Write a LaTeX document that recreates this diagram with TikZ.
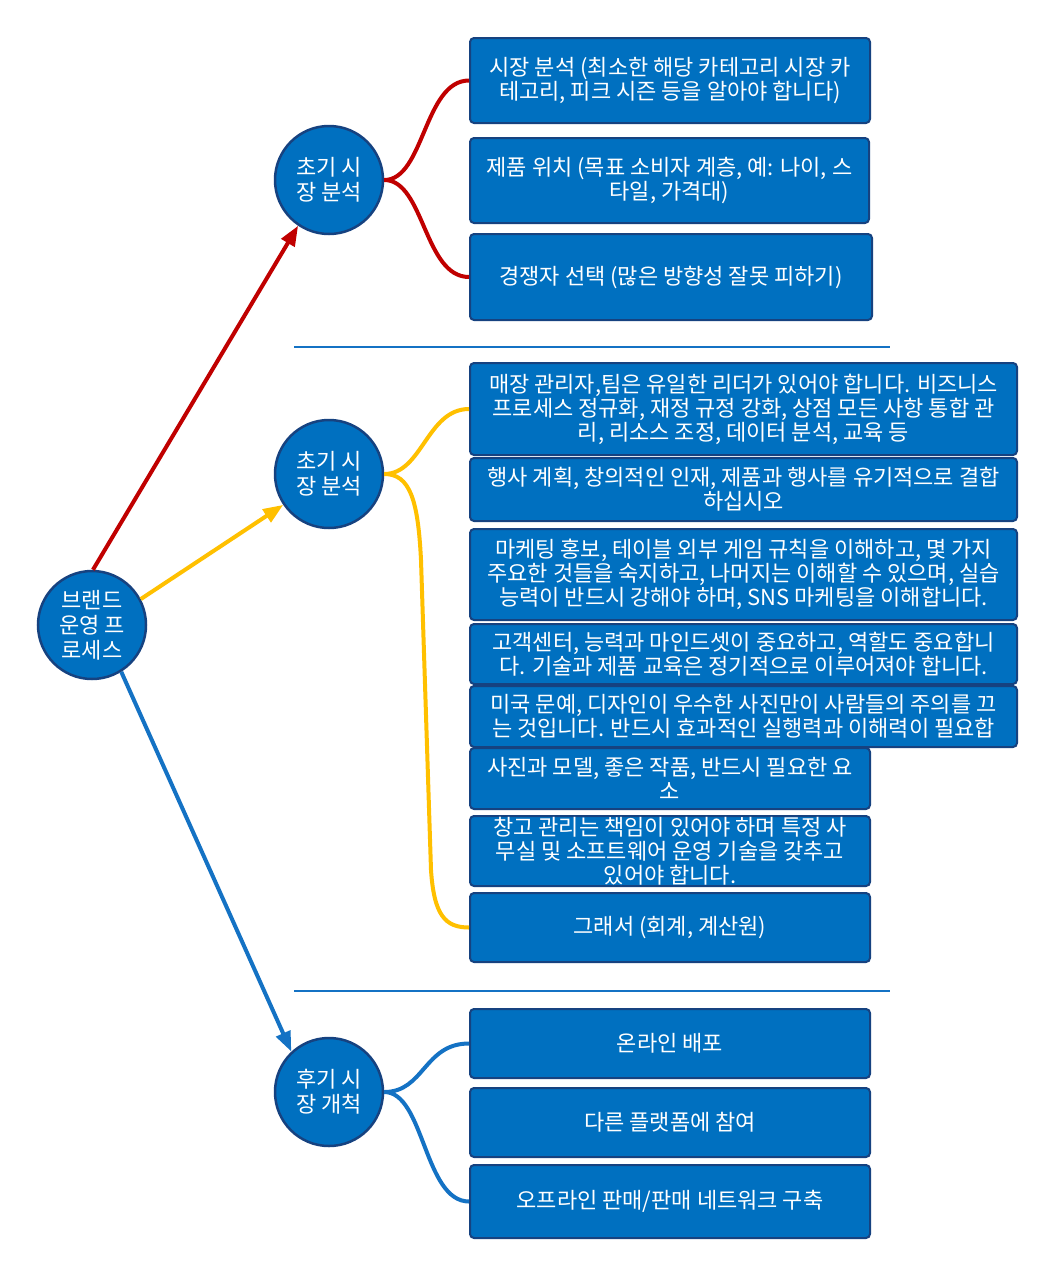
\documentclass[tikz,border=0pt]{standalone}
\usepackage{fontspec}
\setmainfont{Noto Sans CJK KR}
\usetikzlibrary{arrows.meta,calc}
\definecolor{bfill}{RGB}{0,112,192}
\definecolor{bdr}{RGB}{22,66,128}
\definecolor{cred}{RGB}{192,0,0}
\definecolor{cyel}{RGB}{255,192,0}
\definecolor{cblu}{RGB}{20,114,196}
\tikzset{
  bx/.style={draw=bdr, fill=bfill, line width=2pt, rounded corners=4pt, text=white,
    align=center, inner sep=0pt, font=\fontsize{22}{24}\selectfont},
  circ/.style={circle, draw=bdr, fill=bfill, line width=2.5pt, text=white, align=center,
    inner sep=0pt, minimum size=108pt, font=\fontsize{22}{25}\selectfont},
  arr/.style={line width=4pt, -{Triangle[length=20pt,width=15pt]}},
  br/.style={line width=4pt},
  sep/.style={draw=cblu, line width=2pt}
}
\begin{document}
\begin{tikzpicture}[x=1pt,y=-1pt]
\useasboundingbox[fill=white] (0,0) rectangle (1053,1275);

% circles
\node[circ] (root) at (92,625) {브랜드\\운영 프\\로세스};
\node[circ] (c1) at (329,180) {초기 시\\장 분석};
\node[circ] (c2) at (329,474) {초기 시\\장 분석};
\node[circ] (c3) at (329,1092) {후기 시\\장 개척};

% top group
\node[bx, minimum width=400pt, minimum height=85pt] (b1) at (670,80.5) {시장 분석 (최소한 해당 카테고리 시장 카\\테고리, 피크 시즌 등을 알아야 합니다)};
\node[bx, minimum width=399pt, minimum height=85pt] (b2) at (669.5,180.5) {제품 위치 (목표 소비자 계층, 예: 나이, 스\\타일, 가격대)};
\node[bx, minimum width=402pt, minimum height=86pt] (b3) at (671,277) {경쟁자 선택 (많은 방향성 잘못 피하기)};

% middle group
\node[bx, minimum width=547pt, minimum height=92pt] (m1) at (743.5,409) {매장 관리자,팀은 유일한 리더가 있어야 합니다. 비즈니스\\프로세스 정규화, 재정 규정 강화, 상점 모든 사항 통합 관\\리, 리소스 조정, 데이터 분석, 교육 등};
\node[bx, minimum width=547pt, minimum height=63pt] (m2) at (743.5,489.5) {행사 계획, 창의적인 인재, 제품과 행사를 유기적으로 결합\\하십시오};
\node[bx, minimum width=547pt, minimum height=91pt] (m3) at (743.5,574.5) {마케팅 홍보, 테이블 외부 게임 규칙을 이해하고, 몇 가지\\주요한 것들을 숙지하고, 나머지는 이해할 수 있으며, 실습\\능력이 반드시 강해야 하며, SNS 마케팅을 이해합니다.};
\node[bx, minimum width=547pt, minimum height=60pt] (m4) at (743.5,654) {고객센터, 능력과 마인드셋이 중요하고, 역할도 중요합니\\다. 기술과 제품 교육은 정기적으로 이루어져야 합니다.};
\node[bx, minimum width=547pt, minimum height=61pt] (m5) at (743.5,716.5) {미국 문예, 디자인이 우수한 사진만이 사람들의 주의를 끄\\는 것입니다. 반드시 효과적인 실행력과 이해력이 필요합};
\node[bx, minimum width=400pt, minimum height=61pt] (m6) at (670,778.5) {사진과 모델, 좋은 작품, 반드시 필요한 요\\소};
\node[bx, minimum width=400pt, minimum height=70pt] (m7) at (670,851) {창고 관리는 책임이 있어야 하며 특정 사\\무실 및 소프트웨어 운영 기술을 갖추고\\있어야 합니다.};
\node[bx, minimum width=400pt, minimum height=69pt] (m8) at (670,927.5) {그래서 (회계, 계산원)};

% bottom group
\node[bx, minimum width=400pt, minimum height=69pt] (n1) at (670,1043.5) {온라인 배포};
\node[bx, minimum width=400pt, minimum height=69pt] (n2) at (670,1122.5) {다른 플랫폼에 참여};
\node[bx, minimum width=400pt, minimum height=73pt] (n3) at (670,1201.5) {오프라인 판매/판매 네트워크 구축};

% separators
\coordinate (s1a) at (294,347); \coordinate (s1b) at (890,347);
\coordinate (s2a) at (294,991); \coordinate (s2b) at (890,991);
\draw[sep] (s1a) -- (s1b);
\draw[sep] (s2a) -- (s2b);

% main arrows
\draw[arr, draw=cred, fill=cred] (root.89) -- (c1.236);
\draw[arr, draw=cyel, fill=cyel] (root.28) -- (c2.214);
\draw[arr, draw=cblu, fill=cblu] (root.302) -- (c3.133);

% red branches
\draw[br, cred] (c1.east) .. controls +(40,0) and +(-45,0) .. (b1.west);
\draw[br, cred] (c1.east) .. controls +(40,0) and +(-45,0) .. (b3.west);

% yellow branches
\draw[br, cyel] (c2.east) .. controls +(38,0) and +(-42,0) .. (m1.west);
\draw[br, cyel] (c2.east) .. controls (410,474) and (418,500) .. (421,560)
  -- (431,870) .. controls (434,915) and (445,927.5) .. (m8.west);

% blue branches
\draw[br, cblu] (c3.east) .. controls +(40,0) and +(-45,0) .. (n1.west);
\draw[br, cblu] (c3.east) .. controls +(40,0) and +(-45,0) .. (n3.west);
\end{tikzpicture}
\end{document}
